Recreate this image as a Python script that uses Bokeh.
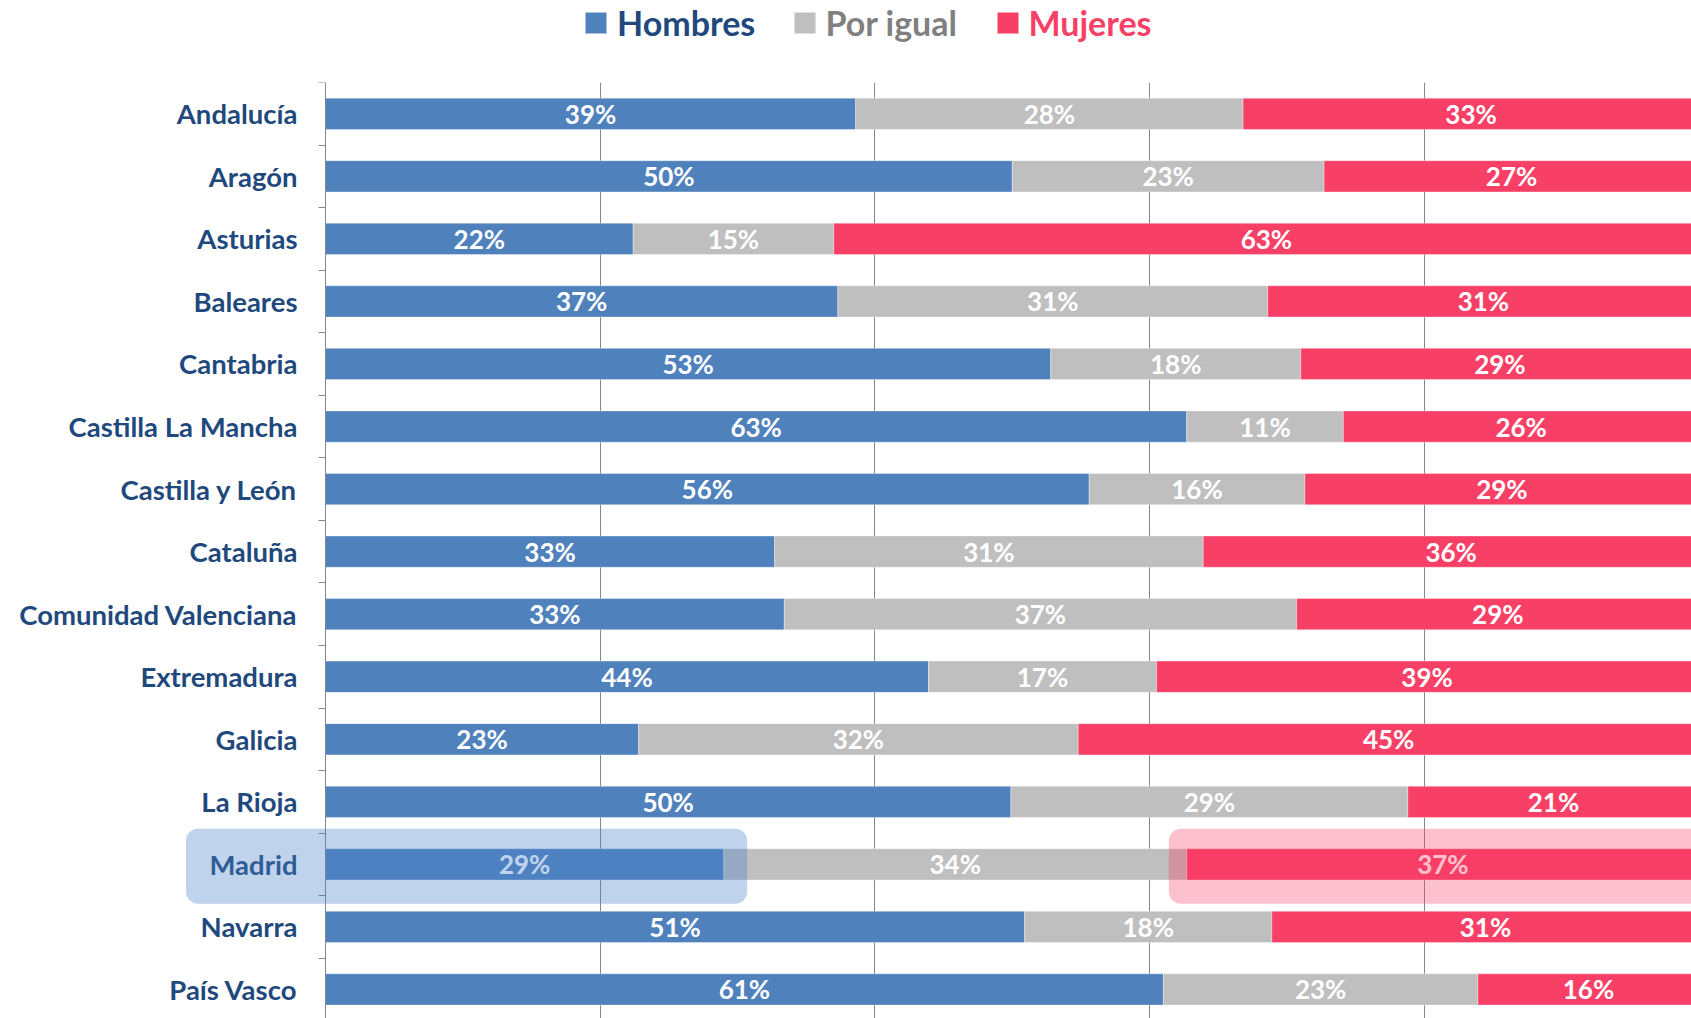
from bokeh.plotting import figure
from bokeh.models import Range1d, FixedTicker, Grid, BoxAnnotation, ColumnDataSource, LabelSet
from bokeh.layouts import column
from bokeh.core.properties import value
from bokeh.embed import file_html
from bokeh.resources import INLINE

# ---------------- data ----------------
regions = ["Andalucía", "Aragón", "Asturias", "Baleares", "Cantabria",
           "Castilla La Mancha", "Castilla y León", "Cataluña",
           "Comunidad Valenciana", "Extremadura", "Galicia", "La Rioja",
           "Madrid", "Navarra", "País Vasco"]
hombres   = [0.386, 0.500, 0.224, 0.373, 0.528, 0.627, 0.556, 0.327, 0.334, 0.439, 0.228, 0.499, 0.290, 0.509, 0.610]
por_igual = [0.282, 0.227, 0.146, 0.313, 0.182, 0.114, 0.157, 0.312, 0.373, 0.166, 0.320, 0.289, 0.337, 0.180, 0.229]
mujeres   = [0.332, 0.273, 0.630, 0.314, 0.290, 0.259, 0.287, 0.361, 0.293, 0.394, 0.452, 0.212, 0.373, 0.311, 0.161]
series_names = ["Hombres", "Por igual", "Mujeres"]
highlight_region = "Madrid"
grid_ticks = [0.2, 0.4, 0.6, 0.8]

# ---------------- style ----------------
COLORS = ["#4F81BD", "#BFBFBF", "#F83F66"]
LEGEND_TEXT_COLORS = ["#1F497D", "#808080", "#F83F66"]
AXIS_COLOR = "#868686"
LABEL_COLOR = "#1F497D"
FONT = "Lato"

W = 1691
LEG_H = 60
MAIN_H = 958
AXIS_X = 325              # pixel position of the value axis (x = 0)
X_END = 0.9945
PX_PER_UNIT = (W - AXIS_X) / X_END
X_START = -AXIS_X / PX_PER_UNIT
n = len(regions)
ys = list(range(n))

def pct(v):
    return f"{int(v * 100 + 0.5)}%"

series = [hombres, por_igual, mujeres]
lefts, rights = [], []
acc = [0.0] * n
for s in series:
    lefts.append(list(acc))
    acc = [a + v for a, v in zip(acc, s)]
    rights.append(list(acc))

# ---------------- main figure ----------------
p = figure(width=W, height=MAIN_H,
           x_range=Range1d(X_START, X_END), y_range=Range1d(start=n - 0.536, end=-0.5),
           x_axis_location=None, y_axis_location="left",
           toolbar_location=None, output_backend="svg",
           min_border_left=0, min_border_right=0, min_border_top=22, min_border_bottom=0,
           outline_line_color=None, background_fill_color="white", border_fill_color="white")

for g in p.grid:
    g.visible = False
p.add_layout(Grid(dimension=0, ticker=FixedTicker(ticks=grid_ticks),
                  grid_line_color=AXIS_COLOR, grid_line_width=1))

for k, s in enumerate(series):
    src = ColumnDataSource(dict(
        y=ys, left=lefts[k], right=rights[k],
        mid=[(a + b) / 2 for a, b in zip(lefts[k], rights[k])],
        lab=[pct(v) for v in s]))
    p.hbar(y="y", left="left", right="right", height=0.5, source=src,
           fill_color=COLORS[k], line_color="white", line_alpha=0.35, line_width=1)
    p.add_layout(LabelSet(x="mid", y="y", text="lab", source=src,
                          text_align="center", text_baseline="middle",
                          text_color="white", text_font=value(FONT),
                          text_font_style="bold", text_font_size="26px"))

ax = p.yaxis[0]
ax.fixed_location = 0
ax.ticker = FixedTicker(ticks=ys, minor_ticks=[i - 0.5 for i in range(n + 1)])
ax.major_label_overrides = {i: r for i, r in enumerate(regions)}
ax.axis_line_color = AXIS_COLOR
ax.major_tick_out = 0
ax.major_tick_in = 0
ax.minor_tick_out = 7
ax.minor_tick_in = 0
ax.minor_tick_line_color = AXIS_COLOR
ax.major_label_text_font = FONT
ax.major_label_text_font_style = "bold"
ax.major_label_text_font_size = "27.5px"
ax.major_label_text_color = LABEL_COLOR
ax.major_label_standoff = 21

# ---------------- highlight for the selected region ----------------
hi = regions.index(highlight_region)
p.add_layout(BoxAnnotation(left=-(AXIS_X - 185.5) / PX_PER_UNIT, right=hombres[hi] + 0.017,
                           top=hi - 0.57, bottom=hi + 0.63,
                           fill_color="#4A80C8", fill_alpha=0.35, line_color=None,
                           border_radius=12))
p.add_layout(BoxAnnotation(left=hombres[hi] + por_igual[hi] - 0.013, right=1.1,
                           top=hi - 0.57, bottom=hi + 0.63,
                           fill_color=COLORS[2], fill_alpha=0.32, line_color=None,
                           border_radius=12))

# ---------------- legend strip ----------------
leg = figure(width=W, height=LEG_H, x_range=Range1d(0, W), y_range=Range1d(LEG_H, 0),
             x_axis_location=None, y_axis_location=None,
             toolbar_location=None, output_backend="svg",
             min_border=0, outline_line_color=None)
for g in leg.grid:
    g.visible = False
sq_x = [595.5, 804.5, 1007.5]
tx_x = [616.5, 825.0, 1028.0]
leg.rect(x=sq_x, y=[22.5] * 3, width=21, height=21, fill_color=COLORS, line_color=None)
leg.text(x=tx_x, y=[21.5] * 3, text=series_names, text_color=LEGEND_TEXT_COLORS,
         text_font=value(FONT), text_font_style="bold", text_font_size="34px",
         text_align="left", text_baseline="middle")

layout = column(leg, p, spacing=0)
open("out.html", "w").write(file_html(layout, INLINE))
